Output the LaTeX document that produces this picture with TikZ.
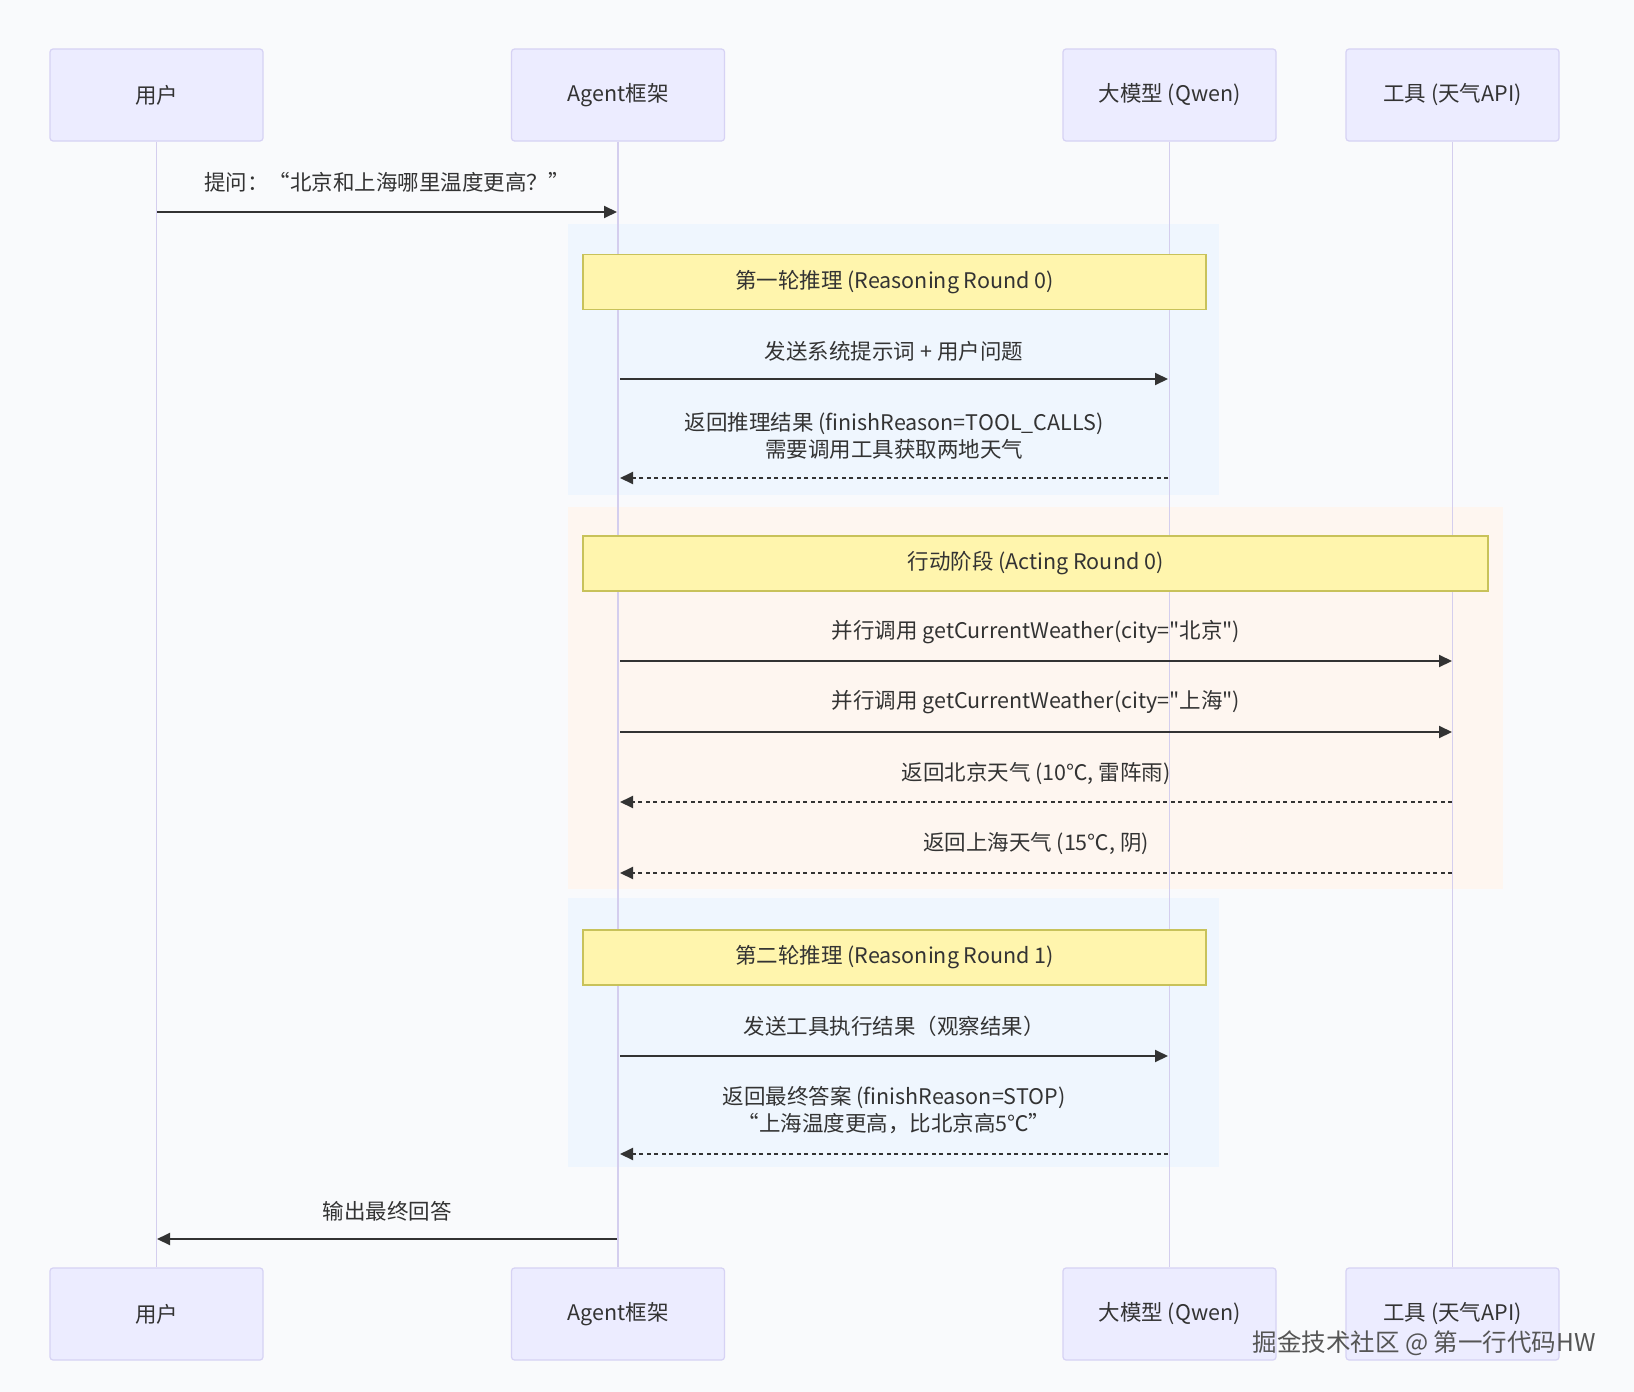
\documentclass[tikz,border=0pt]{standalone}
\usepackage{fontspec}
\setmainfont{Noto Sans CJK SC}[Ligatures=TeXOff]
\usetikzlibrary{arrows.meta}
\definecolor{bg}{HTML}{F9FAFC}
\definecolor{actorfill}{HTML}{ECECFF}
\definecolor{actorborder}{HTML}{D6D2F4}
\definecolor{lifec}{HTML}{D4CEEE}
\definecolor{notefill}{HTML}{FFF5AD}
\definecolor{notestroke}{HTML}{C8C25A}
\definecolor{bluebox}{HTML}{EFF6FE}
\definecolor{orangebox}{HTML}{FEF6F0}
\definecolor{arrowc}{HTML}{333333}
\definecolor{txt}{HTML}{333333}
\definecolor{wm}{HTML}{555555}
\newcommand{\fsz}{\fontsize{21.5}{27}\selectfont}
\tikzset{
  actor/.style={draw=actorborder, fill=actorfill, rounded corners=3pt, minimum width=213pt, minimum height=92pt, line width=1.2pt, font=\fsz, text=txt, inner sep=0pt},
  notebox/.style={draw=notestroke, fill=notefill, line width=1.2pt, font=\fsz, text=txt, inner sep=0pt},
  msg/.style={draw=arrowc, line width=2pt, -{Triangle[length=13pt,width=12pt]}},
  reply/.style={msg, dash pattern=on 4pt off 3.5pt},
  lbl/.style={font=\fsz, text=txt, align=center, inner sep=0pt},
  lifeline/.style={draw=lifec, line width=1.6pt}
}
\begin{document}
\begin{tikzpicture}[x=1pt,y=-1pt]
\fill[bg] (0,0) rectangle (1634,1392);
\useasboundingbox (0,0) rectangle (1634,1392);
% group backgrounds
\fill[bluebox] (568,224) rectangle (1219,495);
\fill[orangebox] (568,507) rectangle (1503,889);
\fill[bluebox] (568,898) rectangle (1219,1167);
% actors
\node[actor] (uT) at (156.5,95) {用户};
\node[actor] (aT) at (618,95) {Agent框架};
\node[actor] (qT) at (1169.5,95) {大模型 (Qwen)};
\node[actor] (tT) at (1452.5,95) {工具 (天气API)};
\node[actor] (uB) at (156.5,1314) {用户};
\node[actor] (aB) at (618,1314) {Agent框架};
\node[actor] (qB) at (1169.5,1314) {大模型 (Qwen)};
\node[actor] (tB) at (1452.5,1314) {工具 (天气API)};
% lifelines
\draw[lifeline] (uT.south) -- (uB.north);
\draw[lifeline] (aT.south) -- (aB.north);
\draw[lifeline] (qT.south) -- (qB.north);
\draw[lifeline] (tT.south) -- (tB.north);
% notes
\node[notebox, minimum width=623pt, minimum height=55pt] (n1) at (894.5,282) {第一轮推理 (Reasoning Round 0)};
\node[notebox, minimum width=905pt, minimum height=55pt] (n2) at (1035.5,563.5) {行动阶段 (Acting Round 0)};
\node[notebox, minimum width=623pt, minimum height=55pt] (n3) at (894.5,957.5) {第二轮推理 (Reasoning Round 1)};
% message end points
\coordinate (m1s) at (157,212);  \coordinate (m1e) at (617,212);
\coordinate (m2s) at (620,379);  \coordinate (m2e) at (1168,379);
\coordinate (m3s) at (1168,478); \coordinate (m3e) at (620,478);
\coordinate (m4s) at (620,661);  \coordinate (m4e) at (1452,661);
\coordinate (m5s) at (620,732);  \coordinate (m5e) at (1452,732);
\coordinate (m6s) at (1452,802); \coordinate (m6e) at (620,802);
\coordinate (m7s) at (1452,873); \coordinate (m7e) at (620,873);
\coordinate (m8s) at (620,1056); \coordinate (m8e) at (1168,1056);
\coordinate (m9s) at (1168,1154);\coordinate (m9e) at (620,1154);
\coordinate (m10s) at (617,1239);\coordinate (m10e) at (157,1239);
% messages
\draw[msg] (m1s) -- (m1e);
\draw[msg] (m2s) -- (m2e);
\draw[reply] (m3s) -- (m3e);
\draw[msg] (m4s) -- (m4e);
\draw[msg] (m5s) -- (m5e);
\draw[reply] (m6s) -- (m6e);
\draw[reply] (m7s) -- (m7e);
\draw[msg] (m8s) -- (m8e);
\draw[reply] (m9s) -- (m9e);
\draw[msg] (m10s) -- (m10e);
% labels
\node[lbl] (l1) at (387,182) {提问：“北京和上海哪里温度更高？”};
\node[lbl] (l2) at (894,351) {发送系统提示词 + 用户问题};
\node[lbl] (l3) at (894,435.5) {返回推理结果 (finishReason=TOOL\_CALLS)\\需要调用工具获取两地天气};
\node[lbl] (l4) at (1036,632) {并行调用 getCurrentWeather(city="北京")};
\node[lbl] (l5) at (1036,702) {并行调用 getCurrentWeather(city="上海")};
\node[lbl] (l6) at (1036,773) {返回北京天气 (10℃, 雷阵雨)};
\node[lbl] (l7) at (1036,844) {返回上海天气 (15℃, 阴)};
\node[lbl] (l8) at (894,1026) {发送工具执行结果（观察结果）};
\node[lbl] (l9) at (894,1110.5) {返回最终答案 (finishReason=STOP)\\“上海温度更高，比北京高5℃”};
\node[lbl] (l10) at (387,1211) {输出最终回答};
% watermark
\node[font=\fontsize{24.5}{28}\selectfont, text=wm, inner sep=0pt] (wmk) at (1424,1343) {掘金技术社区 @ 第一行代码HW};
\end{tikzpicture}
\end{document}
